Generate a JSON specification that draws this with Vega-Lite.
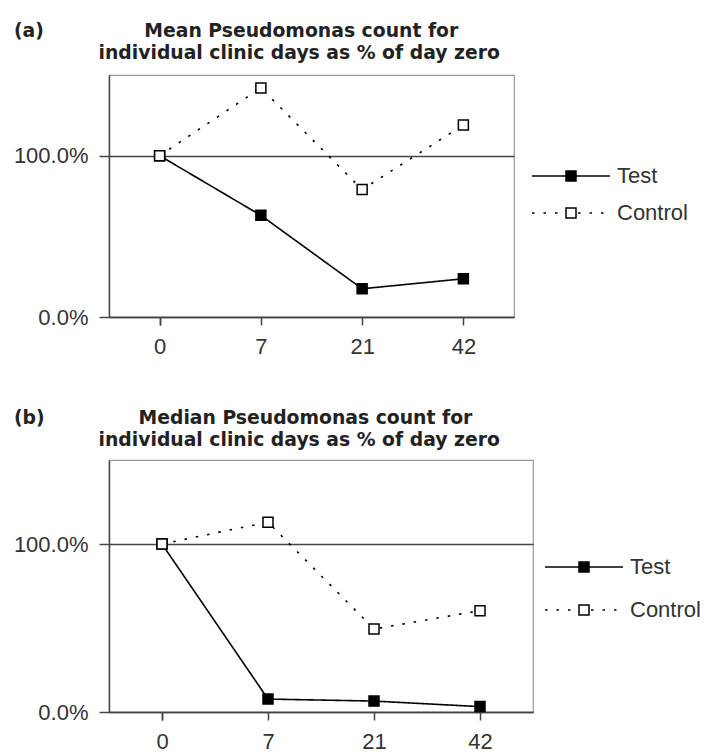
{
  "$schema": "https://vega.github.io/schema/vega-lite/v6.json",
  "padding": {"left": 12, "top": 21, "right": 5, "bottom": 5},
  "background": "white",
  "datasets": {
    "counts": [
      {"stat": "mean", "day": 0, "series": "Test", "pct": 1.0},
      {"stat": "mean", "day": 7, "series": "Test", "pct": 0.63},
      {"stat": "mean", "day": 21, "series": "Test", "pct": 0.175},
      {"stat": "mean", "day": 42, "series": "Test", "pct": 0.237},
      {"stat": "mean", "day": 0, "series": "Control", "pct": 1.0},
      {"stat": "mean", "day": 7, "series": "Control", "pct": 1.42},
      {"stat": "mean", "day": 21, "series": "Control", "pct": 0.79},
      {"stat": "mean", "day": 42, "series": "Control", "pct": 1.19},
      {"stat": "median", "day": 0, "series": "Test", "pct": 1.0},
      {"stat": "median", "day": 7, "series": "Test", "pct": 0.077},
      {"stat": "median", "day": 21, "series": "Test", "pct": 0.065},
      {"stat": "median", "day": 42, "series": "Test", "pct": 0.032},
      {"stat": "median", "day": 0, "series": "Control", "pct": 1.0},
      {"stat": "median", "day": 7, "series": "Control", "pct": 1.13},
      {"stat": "median", "day": 21, "series": "Control", "pct": 0.494},
      {"stat": "median", "day": 42, "series": "Control", "pct": 0.603}
    ]
  },
  "spacing": 50,
  "vconcat": [
    {
      "width": 405,
      "height": 242,
      "data": {"name": "counts"},
      "transform": [{"filter": "datum.stat === 'mean'"}],
      "title": {"text": ["(a)\u2003\u2003\u2003\u2003\u2003\u00a0Mean Pseudomonas count for", "\u200b\u2003\u2003\u2003\u2003\u2002individual clinic days as % of day zero"], "anchor": "start", "frame": "group", "align": "left", "dx": -95, "offset": 12},
      "encoding": {
        "x": {"field": "day", "type": "ordinal", "scale": {"domain": [0, 7, 21, 42], "paddingInner": 0, "paddingOuter": 0}},
        "y": {"field": "pct", "type": "quantitative", "scale": {"domain": [0, 1.5], "nice": false},
              "axis": {"values": [0, 1], "format": ".1%", "title": null}}
      },
      "layer": [
        {
          "mark": {"type": "line", "color": "black", "strokeWidth": 1.6},
          "encoding": {
            "strokeDash": {"field": "series", "type": "nominal",
              "scale": {"domain": ["Test", "Control"], "range": [[1, 0], [2.5, 9]]},
              "legend": {"title": null, "orient": "none", "legendX": 451, "legendY": 90, "rowPadding": 15, "symbolType": "M-7.8,0H7.8", "symbolFillColor": "transparent"}}
          }
        },
        {
          "mark": {"type": "point", "shape": "square", "filled": true, "size": 100, "stroke": "black", "strokeWidth": 1.5, "opacity": 1},
          "encoding": {
            "fill": {"field": "series", "type": "nominal", "sort": "descending",
              "scale": {"range": ["black", "white"]},
              "legend": {"title": null, "orient": "none", "legendX": 451, "legendY": 90, "rowPadding": 15, "symbolType": "square", "labelOpacity": 0}}
          }
        }
      ]
    },
    {
      "width": 424,
      "height": 252,
      "data": {"name": "counts"},
      "transform": [{"filter": "datum.stat === 'median'"}],
      "title": {"text": ["(b)\u2003\u2003\u2003\u2003\u2003Median Pseudomonas count for", "\u200b\u2003\u2003\u2003\u2003\u2002individual clinic days as % of day zero"], "anchor": "start", "frame": "group", "align": "left", "dx": -95, "offset": 10},
      "encoding": {
        "x": {"field": "day", "type": "ordinal", "scale": {"domain": [0, 7, 21, 42], "paddingInner": 0, "paddingOuter": 0}},
        "y": {"field": "pct", "type": "quantitative", "scale": {"domain": [0, 1.5], "nice": false},
              "axis": {"values": [0, 1], "format": ".1%", "title": null}}
      },
      "layer": [
        {
          "mark": {"type": "line", "color": "black", "strokeWidth": 1.6},
          "encoding": {
            "strokeDash": {"field": "series", "type": "nominal",
              "scale": {"domain": ["Test", "Control"], "range": [[1, 0], [2.5, 9]]},
              "legend": {"title": null, "orient": "none", "legendX": 464, "legendY": 96, "rowPadding": 21, "symbolType": "M-7.8,0H7.8", "symbolFillColor": "transparent"}}
          }
        },
        {
          "mark": {"type": "point", "shape": "square", "filled": true, "size": 100, "stroke": "black", "strokeWidth": 1.5, "opacity": 1},
          "encoding": {
            "fill": {"field": "series", "type": "nominal", "sort": "descending",
              "scale": {"range": ["black", "white"]},
              "legend": {"title": null, "orient": "none", "legendX": 464, "legendY": 96, "rowPadding": 21, "symbolType": "square", "labelOpacity": 0}}
          }
        }
      ]
    }
  ],
  "resolve": {
    "scale": {"x": "independent", "y": "independent", "strokeDash": "independent", "fill": "independent"},
    "legend": {"strokeDash": "independent", "fill": "independent"}
  },
  "config": {
    "view": {"stroke": "#999", "strokeWidth": 1.2},
    "font": "Liberation Sans",
    "title": {"font": "DejaVu Sans", "fontSize": 18.8, "fontWeight": "bold", "color": "#222", "lineHeight": 22},
    "axis": {"labelFont": "Liberation Sans", "labelFontSize": 22, "labelColor": "#333", "domainColor": "#444", "domainWidth": 1.5, "tickColor": "#444", "tickWidth": 1.5},
    "axisX": {"tickSize": 8, "labelPadding": 11, "tickBand": "extent", "labelAngle": 0, "grid": false, "title": null},
    "axisY": {"tickSize": 10, "labelPadding": 11, "grid": true, "gridColor": "#444", "gridWidth": 1.5},
    "legend": {"labelFont": "Liberation Sans", "labelFontSize": 22, "labelColor": "#333", "symbolSize": 100, "labelOffset": 35, "symbolStrokeWidth": 1.5, "symbolStrokeColor": "black"}
  }
}
